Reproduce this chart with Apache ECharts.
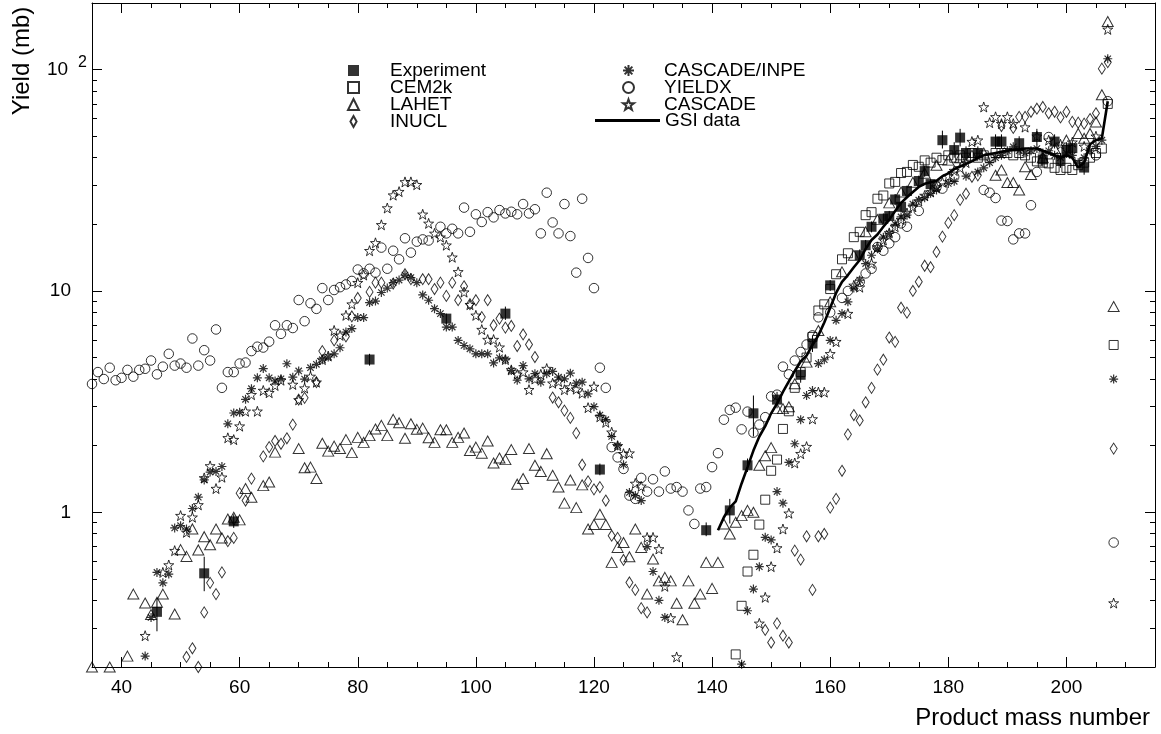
<!DOCTYPE html>
<html><head><meta charset="utf-8">
<script src="https://cdn.jsdelivr.net/npm/echarts@6/dist/echarts.min.js"></script>
<style>html,body{margin:0;padding:0;background:#fff}#c{width:1161px;height:734px}</style>
</head><body><div id="c"></div>
<script>
// ---- tick values ----
const xMajor = [40,60,80,100,120,140,160,180,200];
const xMinor = [45,50,55,65,70,75,85,90,95,105,110,115,125,130,135,145,150,155,165,170,175,185,190,195,205,210];
const yMajor = [1,10,100];
const yMinor = [0.3,0.4,0.5,0.6,0.7,0.8,0.9,2,3,4,5,6,7,8,9,20,30,40,50,60,70,80,90];

// ---- data: [mass number, yield mb] ----
const experiment = [[46,0.355],[54,0.53],[59,0.91],[82,4.9],[95,7.5],[105,7.9],[121,1.56],[139,0.83],[143,1.02],[146,1.63],[147,2.8],[151,3.23],[155,4.18],[157,5.79],[160,10.6],[165,14.5],[166,16.1],[167,19.5],[169,21.2],[170,21.8],[171,25.9],[172,24.0],[173,28.3],[175,31.4],[176,34.8],[177,30.4],[179,48],[181,43.3],[182,49.3],[183,42],[185,42],[188,47.3],[189,47.3],[192,46.5],[195,49.6],[196,39.3],[198,47.3],[199,39],[200,43.3],[201,44.2],[203,36.1]];
const expErrLow  = [0.29,0.44,0.85,4.6,7.1,7.4,1.47,0.78,0.89,1.52,2.2,2.95,3.85,5.3,10.0,13.6,15.2,18.4,20.0,20.6,24.4,22.7,26.7,29.6,32.8,28.7,44,40,45,39,39,44,44,43,46,36.5,44,36,40,41,33.5];
const expErrHigh = [0.41,0.63,0.98,5.2,7.9,8.5,1.66,0.90,1.15,1.75,3.37,3.5,4.5,6.3,11.2,15.4,17.0,20.6,22.4,23.0,27.4,25.3,29.9,33.2,36.8,32.1,53,47,54,45,45,51,51,50,54,42,51,42,47,48,39];

const cem2k = [[144,0.228],[145,0.378],[146,0.54],[147,0.643],[148,0.88],[149,1.14],[150,1.54],[151,1.73],[152,2.38],[153,2.86],[154,3.65],[155,4.3],[156,5.0],[157,6.2],[158,8.16],[159,8.7],[160,10.2],[161,11.9],[162,13.9],[163,14.8],[164,17.5],[165,18.5],[166,22],[167,22.7],[168,26.1],[169,27],[170,30.6],[171,31.1],[172,34.1],[173,34.5],[174,37.1],[175,36.4],[176,38.9],[177,38],[178,40],[179,39],[180,41],[181,40],[182,41],[183,40],[184,42],[185,40],[186,41],[187,40],[188,42],[189,42],[190,42],[191,41],[192,42],[193,41],[194,40],[195,38.5],[196,38],[197,37.7],[198,36],[199,35.2],[200,36],[201,35.2],[202,37],[203,38],[204,40],[205,42],[206,44],[207,70],[208,5.7]];

const lahet = [[35,0.2],[38,0.2],[41,0.224],[42,0.427],[44,0.389],[45,0.345],[46,0.392],[47,0.427],[49,0.347],[50,0.678],[51,0.632],[52,0.841],[53,0.676],[54,0.776],[55,0.714],[56,0.84],[57,0.766],[58,0.933],[59,0.95],[60,0.924],[61,1.28],[62,1.17],[64,1.32],[65,1.37],[66,1.87],[70,1.94],[71,1.59],[72,1.6],[73,1.42],[74,2.05],[75,1.89],[76,1.99],[77,1.94],[78,2.13],[79,1.86],[80,2.18],[81,2.07],[82,2.22],[83,2.38],[84,2.47],[85,2.22],[86,2.63],[87,2.54],[88,2.16],[89,2.51],[90,2.37],[91,2.4],[92,2.17],[93,2.07],[94,2.36],[95,2.36],[96,2.07],[97,2.18],[98,2.28],[99,1.9],[100,1.97],[101,1.85],[102,2.1],[103,1.67],[104,1.76],[105,1.73],[106,1.92],[107,1.34],[108,1.42],[109,1.94],[110,1.63],[111,1.53],[112,1.84],[113,1.47],[114,1.3],[115,1.1],[116,1.4],[117,1.05],[118,1.33],[119,0.84],[120,0.88],[121,0.98],[122,0.88],[123,0.594],[124,0.694],[125,0.73],[126,0.63],[127,0.84],[128,0.694],[129,0.427],[130,0.615],[131,0.49],[132,0.508],[133,0.49],[134,0.388],[135,0.327],[136,0.49],[137,0.388],[138,0.427],[139,0.594],[140,0.453],[141,0.594],[142,0.886],[143,0.798],[144,0.901],[145,0.966],[146,1.02],[147,1.0],[148,1.63],[149,1.8],[150,1.96],[151,2.94],[152,2.94],[153,3.0],[154,3.81],[156,4.77],[158,6.63],[160,8.93],[162,12.2],[164,14.5],[166,18.5],[168,21],[170,25],[172,28],[174,31],[176,34],[178,37],[180,39],[182,40],[184,41],[186,42],[188,33.3],[189,35.2],[190,30.9],[191,30.9],[192,28.6],[193,36.4],[194,33.6],[196,40],[198,44],[200,48],[202,51.5],[203,49],[204,51.5],[205,58],[206,77],[207,165],[208,8.5]];

const inucl = [[51,0.222],[52,0.243],[53,0.2],[54,0.353],[55,0.48],[56,0.427],[57,0.535],[58,0.74],[59,0.766],[60,1.22],[61,1.13],[62,1.42],[64,1.79],[65,1.97],[66,2.1],[67,2.04],[68,2.16],[69,2.49],[70,3.23],[71,3.29],[73,3.87],[74,5.35],[76,5.98],[78,6.23],[79,7.67],[80,9.3],[82,9.9],[83,10.9],[84,10.9],[86,10.8],[88,11.9],[89,11.3],[91,11.3],[92,11.3],[93,10.2],[94,10.9],[95,9.5],[96,10.9],[97,9.08],[98,10.5],[99,8.72],[100,9.08],[101,7.62],[102,9.08],[103,7.0],[104,7.5],[105,6.83],[106,6.95],[107,5.64],[108,6.36],[109,5.73],[110,5.03],[113,3.3],[114,3.14],[115,2.88],[116,2.67],[117,2.28],[118,1.64],[119,1.38],[120,1.27],[121,1.3],[122,1.13],[123,0.784],[124,0.766],[125,0.609],[126,0.482],[127,0.446],[128,0.369],[129,0.353],[149,0.294],[150,0.258],[151,0.315],[152,0.277],[153,0.258],[154,0.671],[155,0.611],[156,0.779],[157,0.446],[158,0.779],[159,0.798],[160,1.05],[161,1.15],[162,1.54],[163,2.25],[164,2.75],[165,2.6],[166,3.14],[167,3.65],[168,4.41],[169,4.89],[170,6.16],[171,5.89],[172,8.4],[173,7.98],[174,10],[175,11],[176,13.0],[177,12.8],[178,15.0],[179,17.6],[180,20.3],[181,22],[182,25.8],[183,27.5],[184,32.8],[185,33.3],[189,55.6],[191,54.5],[192,61.2],[193,61.2],[194,64.5],[195,66.6],[196,67.8],[197,63.5],[198,64.5],[199,60.8],[200,64.5],[201,58.1],[202,57.6],[203,57],[204,59.8],[205,63.5],[206,101],[207,108],[208,1.94]];

const cascadeInpe = [[44,0.224],[45,0.335],[46,0.535],[47,0.48],[48,0.526],[49,0.85],[50,0.87],[51,0.84],[52,1.04],[53,1.17],[54,1.4],[55,1.52],[56,1.53],[57,1.61],[58,2.51],[59,2.81],[60,2.83],[61,3.24],[62,3.62],[63,4.05],[64,4.46],[65,4.05],[66,3.92],[67,4.01],[68,4.69],[69,4.08],[70,4.35],[71,4.0],[72,4.5],[73,4.66],[74,4.89],[75,5.03],[76,5.2],[77,5.54],[78,6.52],[79,6.76],[80,7.58],[81,7.58],[82,8.86],[83,9.0],[84,9.84],[85,10.3],[86,10.9],[87,11.2],[88,11.8],[89,11.5],[90,10.9],[91,9.6],[92,9.08],[93,8.32],[94,7.9],[95,6.87],[96,6.87],[97,5.98],[98,5.67],[99,5.48],[100,5.2],[101,5.2],[102,5.2],[103,4.73],[104,4.99],[105,4.89],[106,4.37],[107,3.95],[108,4.6],[109,4.01],[110,4.23],[111,3.87],[112,4.23],[113,4.33],[114,4.08],[115,4.01],[116,4.25],[117,3.83],[118,3.87],[119,3.43],[120,3.0],[121,2.75],[122,2.62],[123,2.2],[124,2.0],[125,1.64],[126,1.23],[127,1.19],[128,1.13],[129,0.7],[130,0.54],[131,0.4],[132,0.335],[145,0.206],[146,0.359],[147,0.45],[148,0.568],[149,0.771],[150,0.75],[151,1.24],[152,1.1],[153,1.68],[154,2.04],[155,2.62],[156,3.37],[157,3.55],[158,4.7],[159,4.89],[160,5.98],[161,7.37],[162,7.9],[163,8.93],[164,10.3],[165,11.2],[166,13.3],[167,14.5],[168,15.5],[169,17.5],[170,18.2],[171,20],[172,21.6],[173,22],[174,24.7],[175,25.7],[176,26.4],[177,27.6],[178,28.6],[180,30.6],[181,31.3],[183,33],[185,34.5],[186,36],[187,38],[188,40],[189,41],[190,43],[191,44.8],[192,43],[193,42],[194,43],[195,44],[196,42],[197,43],[198,41],[199,40],[200,42],[201,41],[202,38],[203,40],[204,43],[205,45],[206,48],[207,112],[208,4.0]];

const yieldx = [[35,3.8],[36,4.3],[37,4.0],[38,4.5],[39,3.95],[40,4.05],[41,4.4],[42,4.1],[43,4.4],[44,4.45],[45,4.85],[46,4.2],[47,4.55],[48,5.2],[49,4.6],[50,4.7],[51,4.5],[52,6.1],[53,4.6],[54,5.4],[55,4.85],[56,6.7],[57,3.65],[58,4.3],[59,4.3],[60,4.7],[61,4.75],[62,5.35],[63,5.6],[64,5.55],[65,5.9],[66,7.0],[67,6.4],[68,7.0],[69,6.8],[70,9.1],[71,7.3],[72,8.8],[73,8.3],[74,10.3],[75,9.1],[76,10.1],[77,10.4],[78,10.7],[79,11.1],[80,12.5],[81,12.0],[82,12.6],[83,12.1],[84,15.7],[85,12.6],[86,15.2],[87,13.9],[88,17.3],[89,14.9],[90,16.7],[91,17.1],[92,16.9],[94,19.5],[95,18.2],[96,19.1],[97,18.2],[98,23.8],[99,18.5],[100,22.2],[101,20.5],[102,22.7],[103,21.5],[104,23.2],[105,22.4],[106,22.8],[107,22.2],[108,24.7],[109,22.4],[110,23.4],[111,18.2],[112,27.8],[113,20.4],[114,18.2],[115,24.7],[116,17.7],[117,12.1],[118,26.1],[119,14.1],[120,10.3],[121,4.5],[122,3.65],[123,1.97],[124,1.77],[125,1.57],[126,1.19],[127,1.15],[128,1.43],[129,1.24],[130,1.41],[131,1.24],[132,1.53],[133,1.28],[134,1.3],[135,1.24],[136,1.02],[137,0.886],[138,1.28],[139,1.3],[140,1.6],[141,1.85],[142,2.62],[143,2.9],[144,2.97],[145,2.37],[146,2.85],[147,2.29],[148,2.49],[149,2.69],[150,3.34],[151,3.4],[152,4.55],[153,4.2],[154,4.85],[155,5.3],[156,5.73],[157,6.3],[158,7.6],[160,8.0],[162,9.3],[163,10.0],[165,11.0],[166,12.0],[167,12.6],[168,15.8],[169,15.2],[170,16.4],[171,17.5],[172,20.2],[173,19.5],[175,23.0],[178,29.6],[179,29.0],[181,32.8],[186,28.6],[187,27.8],[188,26.3],[189,20.8],[190,20.7],[191,17.1],[192,18.2],[193,18.2],[194,24.4],[195,34.5],[197,49.6],[205,41],[207,72],[208,0.73]];

const cascade = [[44,0.277],[47,0.535],[48,0.578],[49,0.671],[50,0.966],[51,0.812],[52,0.95],[53,1.08],[54,1.43],[55,1.62],[56,1.28],[57,1.44],[58,2.17],[59,2.13],[60,2.45],[61,2.86],[62,3.4],[63,2.86],[64,3.55],[65,3.47],[66,3.74],[67,3.95],[69,3.78],[70,3.22],[71,3.64],[72,4.11],[73,3.87],[74,4.9],[75,5.08],[76,6.63],[77,6.3],[78,7.76],[79,8.72],[80,10.9],[81,11.8],[82,15.2],[83,16.5],[84,19.9],[85,23.7],[86,27.1],[87,28.1],[88,31.1],[89,31.1],[90,30.2],[91,22.2],[92,20.2],[93,18.2],[94,17.5],[95,16.1],[96,14.2],[97,12.2],[98,9.88],[99,8.67],[100,7.76],[101,6.69],[102,6.03],[103,6.03],[104,5.57],[105,4.9],[106,4.4],[107,4.2],[108,4.3],[109,3.58],[110,4.0],[111,4.2],[112,4.46],[113,3.83],[114,3.9],[115,3.58],[116,3.68],[117,3.6],[118,3.45],[119,2.97],[120,3.7],[121,2.7],[122,2.55],[123,2.3],[124,2.0],[125,1.84],[126,1.85],[127,1.35],[128,1.31],[129,0.77],[130,0.77],[131,0.683],[132,0.463],[133,0.333],[134,0.222],[148,0.315],[149,0.413],[150,0.568],[151,0.69],[152,0.84],[153,0.99],[154,1.67],[155,1.84],[156,1.98],[157,2.64],[158,3.49],[159,3.49],[160,5.2],[161,5.9],[163,7.9],[164,10.6],[165,10.4],[167,13.3],[168,15.8],[169,17],[170,18.3],[171,19.5],[172,21],[173,22.5],[174,24],[175,25.5],[176,27],[177,28],[178,29.5],[179,31],[180,33],[181,35],[182,36],[183,38],[184,47.3],[185,48],[186,67.8],[187,57.6],[188,61.2],[189,57],[190,61.2],[191,57],[193,55],[195,50],[197,48],[199,46],[201,47],[203,45],[205,50],[207,152],[208,0.389]];

const gsi = [[141,0.83],[142,0.95],[143,1.05],[144,1.12],[145,1.35],[146,1.6],[147,1.9],[148,2.2],[149,2.45],[150,2.8],[151,3.1],[152,3.5],[153,3.9],[154,4.35],[155,4.8],[156,5.1],[157,5.7],[158,6.3],[159,7.2],[160,8.4],[161,9.8],[162,11.0],[163,11.8],[164,12.8],[165,13.8],[166,15.5],[167,17],[168,18],[169,19.5],[170,21],[171,23],[172,25],[173,26.5],[174,28],[175,29.5],[176,30.5],[177,31],[178,31.5],[179,33],[180,34],[181,35.5],[182,36.5],[183,37.5],[184,38.5],[185,40],[186,41],[187,41.5],[188,42],[189,42.5],[190,43],[191,43.5],[192,43.5],[193,44],[194,44],[195,44],[196,43],[197,42],[198,41],[199,40],[200,41],[201,40],[202,36],[203,38],[204,46],[205,48],[206,49],[207,72]];

// ---- rendering ----
const FONT = 'Liberation Sans, Arial, Helvetica, sans-serif';
const SYM = {
  asterisk: 'path://M0,-10L0,10M-10,0L10,0M-7.07,-7.07L7.07,7.07M-7.07,7.07L7.07,-7.07',
  star: 'path://M0,-10L2.351,-3.236L9.511,-3.09L3.804,1.236L5.878,8.09L0,4L-5.878,8.09L-3.804,1.236L-9.511,-3.09L-2.351,-3.236Z',
  diamond: 'path://M0,-8L4.5,0L0,8L-4.5,0Z'
};
const open = {color: 'rgba(0,0,0,0)', borderColor: '#000', borderWidth: 1};
const openBold = {color: 'rgba(0,0,0,0)', borderColor: '#000', borderWidth: 1.2};
const GRID = {left: 92, right: 6, top: 3, bottom: 67};

function xAx(gridIndex, position, ticks, len, showLine, showLabel) {
  return {
    type: 'value', gridIndex, position, min: 35, max: 215,
    axisLine: {show: showLine, onZero: false, lineStyle: {color: '#000', width: 1}},
    axisTick: {show: true, inside: true, length: len, customValues: ticks, lineStyle: {color: '#000', width: 1}},
    axisLabel: {show: showLabel, customValues: xMajor, margin: 11, color: '#000', fontSize: 19, fontFamily: FONT},
    splitLine: {show: false}
  };
}
function yAx(gridIndex, position, ticks, len, showLine, showLabel) {
  return {
    type: 'log', logBase: 10, gridIndex, position, min: 0.2, max: 200,
    axisLine: {show: showLine, onZero: false, lineStyle: {color: '#000', width: 1}},
    axisTick: {show: true, inside: true, length: len, customValues: ticks, lineStyle: {color: '#000', width: 1}},
    axisLabel: {
      show: showLabel, customValues: yMajor, margin: 5, color: '#000', fontFamily: FONT,
      formatter: function (v) {
        if (Math.abs(v - 100) < 0.01) return '{m|10}{s|2}';
        if (Math.abs(v - 10) < 0.01) return '{n|10}';
        if (Math.abs(v - 1) < 0.001) return '{n|1}';
        return '';
      },
      rich: {
        n: {fontSize: 19, fontFamily: FONT, color: '#000', padding: [0, 16, 0, 0]},
        m: {fontSize: 19, fontFamily: FONT, color: '#000'},
        s: {fontSize: 16, fontFamily: FONT, color: '#000', padding: [0, 0, 14, 10]}
      }
    },
    splitLine: {show: false}
  };
}

const chart = echarts.init(document.getElementById('c'), null, {renderer: 'canvas'});
const scatter = (name, data, symbol, size, style, z) => ({
  name, type: 'scatter', data, symbol, symbolSize: size, itemStyle: style,
  xAxisIndex: 0, yAxisIndex: 0, silent: true, z: z || 2
});
const legendText = (pad) => ({fontSize: 19, fontFamily: FONT, color: '#000', lineHeight: 17, padding: [0, 0, 0, pad]});

chart.setOption({
  animation: false,
  backgroundColor: '#fff',
  textStyle: {fontFamily: FONT},
  grid: [Object.assign({}, GRID), Object.assign({}, GRID)],
  xAxis: [
    xAx(0, 'bottom', xMajor, 10, true, true),
    xAx(0, 'top', xMajor, 10, true, false),
    xAx(1, 'bottom', xMinor, 5, false, false),
    xAx(1, 'top', xMinor, 5, false, false)
  ],
  yAxis: [
    yAx(0, 'left', yMajor, 10, true, true),
    yAx(0, 'right', yMajor, 10, true, false),
    yAx(1, 'left', yMinor, 5, false, false),
    yAx(1, 'right', yMinor, 5, false, false)
  ],
  legend: [
    {left: 342, top: 56, orient: 'vertical', itemWidth: 11, itemHeight: 11, itemGap: -2, selectedMode: false,
     data: [{name: 'Experiment'}, {name: 'CEM2k'}, {name: 'LAHET'}, {name: 'INUCL', icon: SYM.diamond}],
     textStyle: legendText(26)},
    {left: 617, top: 56, orient: 'vertical', itemWidth: 11, itemHeight: 11, itemGap: -2, selectedMode: false,
     data: ['CASCADE/INPE', 'YIELDX', 'CASCADE'],
     textStyle: legendText(25)},
    {left: 590, top: 106, orient: 'vertical', itemWidth: 65, itemHeight: 3, selectedMode: false,
     data: [{name: 'GSI data', icon: 'rect'}],
     textStyle: legendText(0)}
  ],
  graphic: [
    {type: 'text', x: 22, y: 61, rotation: Math.PI / 2,
     style: {text: 'Yield (mb)', fill: '#000', font: '24px ' + FONT, textAlign: 'center', textVerticalAlign: 'middle'}},
    {type: 'text', x: 1150, y: 718,
     style: {text: 'Product mass number', fill: '#000', font: '24px ' + FONT, textAlign: 'right', textVerticalAlign: 'middle'}}
  ],
  series: [
    {name: 'GSI data', type: 'line', data: gsi, xAxisIndex: 0, yAxisIndex: 0, showSymbol: false, symbol: 'none',
     lineStyle: {color: '#000', width: 2.6}, itemStyle: {color: '#000'}, silent: true, z: 3},
    scatter('YIELDX', yieldx, 'circle', 9.5, open),
    scatter('LAHET', lahet, 'triangle', [11, 10], open),
    scatter('INUCL', inucl, SYM.diamond, [7, 11], open),
    scatter('CEM2k', cem2k, 'rect', 9, open),
    scatter('CASCADE/INPE', cascadeInpe, SYM.asterisk, 9, openBold),
    scatter('CASCADE', cascade, SYM.star, 10, open),
    {name: 'Experiment errors', type: 'custom', xAxisIndex: 0, yAxisIndex: 0, silent: true, z: 4,
     data: experiment.map((d, i) => [d[0], expErrLow[i], expErrHigh[i]]),
     encode: {x: 0, y: [1, 2]},
     renderItem: function (params, api) {
       const a = api.coord([api.value(0), api.value(1)]);
       const b = api.coord([api.value(0), api.value(2)]);
       return {type: 'line', shape: {x1: a[0], y1: a[1], x2: b[0], y2: b[1]}, style: {stroke: '#000', lineWidth: 1}};
     }},
    scatter('Experiment', experiment, 'rect', 10, {color: '#000'}, 5)
  ]
});
</script></body></html>
